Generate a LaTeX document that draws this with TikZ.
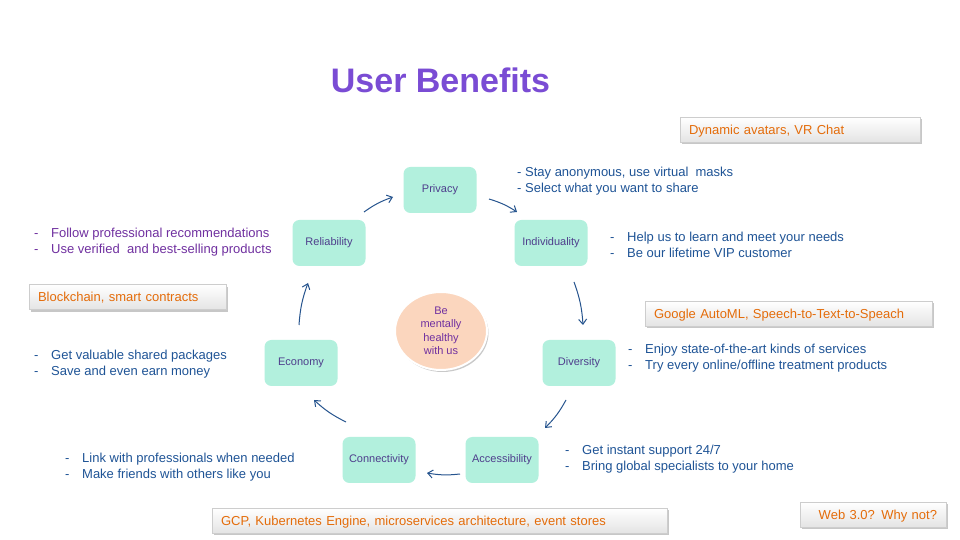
\documentclass[tikz,border=0pt]{standalone}
\usepackage{fontspec}
\setmainfont{Liberation Sans}
\usetikzlibrary{arrows.meta,shadows,shapes.geometric}

\definecolor{mint}{RGB}{178,240,221}
\definecolor{peach}{RGB}{251,214,190}
\definecolor{titlepurple}{RGB}{122,76,212}
\definecolor{notepurple}{RGB}{112,48,160}
\definecolor{noteblue}{RGB}{31,84,150}
\definecolor{labelink}{RGB}{78,62,140}
\definecolor{techorange}{RGB}{228,108,10}
\definecolor{arrowblue}{RGB}{38,84,142}
\definecolor{boxedge}{RGB}{205,205,205}
\definecolor{boxfoot}{RGB}{228,228,228}

\newcommand\dtab{\makebox[17pt][l]{-}}

\tikzset{
  benefit/.style={rounded corners=7pt, fill=mint, minimum width=73pt, minimum height=46pt,
    inner sep=0pt, text=labelink, font=\fontsize{11}{13}\selectfont,
    text height=6pt, text depth=0pt},
  note/.style={anchor=base west, inner sep=0pt, font=\fontsize{13}{16}\selectfont, text=noteblue},
  pnote/.style={note, text=notepurple},
  techbox/.style={draw=boxedge, top color=white, bottom color=boxfoot,
    drop shadow={shadow xshift=1.5pt, shadow yshift=-2.5pt, opacity=0.4, fill=black!55},
    minimum height=25pt, inner xsep=9pt, inner ysep=0pt, text=techorange,
    text height=10pt, text depth=0pt,
    font=\fontsize{13}{16}\selectfont},
  flow/.style={-{Straight Barb[length=5pt,width=8pt]}, line width=1pt, draw=arrowblue,
    bend left=8},
}

\begin{document}
\begin{tikzpicture}[x=1pt,y=1pt]
\useasboundingbox (0,0) rectangle (960,540);
\fill[white] (0,0) rectangle (960,540);

% title
\node[anchor=base, inner sep=0pt, text=titlepurple, font=\fontsize{34}{40}\selectfont\bfseries]
  (title) at (440.5,447) {User Benefits};

% benefit boxes arranged in a ring
\node[benefit] (priv) at (440,350) {Privacy};
\node[benefit] (rel)  at (329,297) {Reliability};
\node[benefit] (ind)  at (551,297) {Individuality};
\node[benefit] (eco)  at (301,177) {Economy};
\node[benefit] (div)  at (579,177) {Diversity};
\node[benefit] (con)  at (379,80)  {Connectivity};
\node[benefit] (acc)  at (502,80)  {Accessibility};

% centre
\node[ellipse, fill=peach, draw=white, line width=2pt, minimum width=92pt, minimum height=78pt,
  drop shadow={shadow xshift=1.5pt, shadow yshift=-2pt, opacity=0.35, fill=black!60},
  align=center, text=notepurple, font=\fontsize{11}{13.5}\selectfont, inner sep=0pt]
  (core) at (441,209) {Be\\mentally\\healthy\\with us};

% clockwise flow
\draw[flow] ([shift={(35,31)}]rel.center)  to ([shift={(-47,-7)}]priv.center);
\draw[flow] ([shift={(49,-9)}]priv.center) to ([shift={(-34,31)}]ind.center);
\draw[flow] ([shift={(23,-39)}]ind.center) to ([shift={(4,38)}]div.center);
\draw[flow] ([shift={(-13,-37)}]div.center) to ([shift={(43,32)}]acc.center);
\draw[flow] ([shift={(-42,-14)}]acc.center) to ([shift={(48,-13)}]con.center);
\draw[flow] ([shift={(-33,38)}]con.center) to ([shift={(13,-37)}]eco.center);
\draw[flow] ([shift={(-2,38)}]eco.center)  to ([shift={(-21,-40)}]rel.center);

% notes beside each benefit
\node[note] (privA) at (517,363) {- Stay anonymous, use virtual\ \ masks};
\node[note] (privB) at (517,347) {- Select what you want to share};

\node[note] (indA) at (610,298) {\dtab Help us to learn and meet your needs};
\node[note] (indB) at (610,282) {\dtab Be our lifetime VIP customer};

\node[pnote] (relA) at (34,302) {\dtab Follow professional recommendations};
\node[pnote] (relB) at (34,286) {\dtab Use verified\ \ and best-selling products};

\node[note] (ecoA) at (34,180) {\dtab Get valuable shared packages};
\node[note] (ecoB) at (34,164) {\dtab Save and even earn money};

\node[note] (divA) at (628,186) {\dtab Enjoy state-of-the-art kinds of services};
\node[note] (divB) at (628,170) {\dtab Try every online/offline treatment products};

\node[note] (accA) at (565,85) {\dtab Get instant support 24/7};
\node[note] (accB) at (565,69) {\dtab Bring global specialists to your home};

\node[note] (conA) at (65,77) {\dtab Link with professionals when needed};
\node[note] (conB) at (65,61) {\dtab Make friends with others like you};

% technology boxes
\node[techbox, text width=222pt, align=left] (techA) at (800,410.5) {Dynamic avatars, VR Chat};
\node[techbox, text width=179pt, align=left] (techB) at (127.5,243) {Blockchain, smart contracts};
\node[techbox, text width=269pt, align=left] (techC) at (788.5,226.5) {Google AutoML, Speech-to-Text-to-Speach};
\node[techbox, text width=437pt, align=left] (techD) at (439.5,19.5) {GCP, Kubernetes Engine, microservices architecture, event stores};
\node[techbox, text width=128pt, align=right] (techE) at (873,25.5) {Web 3.0? Why not?};
\end{tikzpicture}
\end{document}
